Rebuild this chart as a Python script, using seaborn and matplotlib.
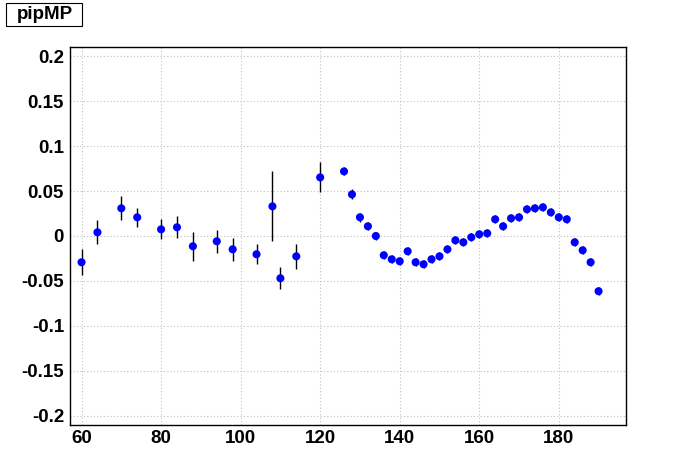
import numpy as np
import pandas as pd
import matplotlib
matplotlib.use('Agg')
import matplotlib.pyplot as plt
import seaborn as sns
from matplotlib.ticker import MultipleLocator, FuncFormatter
from matplotlib.patches import Rectangle

# data
x = [60, 64, 70, 74, 80, 84, 88, 94, 98, 104, 108, 110, 114, 120,
     126, 128, 130, 132, 134, 136, 138, 140, 142, 144, 146, 148, 150,
     152, 154, 156, 158, 160, 162, 164, 166, 168, 170, 172, 174, 176,
     178, 180, 182, 184, 186, 188, 190]
y = [-0.0292, 0.0041, 0.0308, 0.0208, 0.0074, 0.0097, -0.0114, -0.0059,
     -0.0148, -0.0203, 0.0330, -0.0470, -0.0226, 0.0652,
     0.0719, 0.0463, 0.0208, 0.0108, 0.0000, -0.0214, -0.0259, -0.0281,
     -0.0170, -0.0292, -0.0314, -0.0259, -0.0226, -0.0148, -0.0048,
     -0.0070, -0.0014, 0.0019, 0.0030, 0.0186, 0.0108, 0.0197, 0.0208,
     0.0297, 0.0308, 0.0319, 0.0263, 0.0208, 0.0186, -0.0070, -0.0159,
     -0.0292, -0.0614]
yerr = [0.0144, 0.0133, 0.0133, 0.0104, 0.0111, 0.0122, 0.0164, 0.0131,
        0.0126, 0.0113, 0.0389, 0.0120, 0.0137, 0.0167,
        0.0045, 0.0055, 0.0050, 0.0045, 0.0045, 0.0045, 0.0045, 0.0045,
        0.0045, 0.0045, 0.0045, 0.0045, 0.0045, 0.0045, 0.0045, 0.0045,
        0.0045, 0.0045, 0.0045, 0.0045, 0.0045, 0.0045, 0.0045, 0.0045,
        0.0045, 0.0045, 0.0045, 0.0045, 0.0045, 0.0045, 0.0045, 0.0045,
        0.0045]
title = 'pipMP'

df = pd.DataFrame({'x': x, 'y': y, 'yerr': yerr})

sns.set_style('white')
plt.rcParams['font.family'] = ['Liberation Sans', 'DejaVu Sans']
plt.rcParams['font.weight'] = 'bold'
plt.rcParams['text.color'] = 'black'
plt.rcParams['xtick.color'] = 'black'
plt.rcParams['ytick.color'] = 'black'

fig = plt.figure(figsize=(6.96, 4.72), dpi=100)
ax = fig.add_axes([0.1, 0.1, 0.8, 0.8])

ax.errorbar(df['x'], df['y'], yerr=df['yerr'], fmt='none',
            ecolor='black', elinewidth=1.0, capsize=0, zorder=2)
sns.scatterplot(data=df, x='x', y='y', ax=ax, color='#0000ff',
                s=34, marker='o', edgecolor='none', zorder=3)

ax.set_xlim(57, 197)
ax.set_ylim(-0.21, 0.21)
ax.set_xlabel('')
ax.set_ylabel('')

ax.xaxis.set_major_locator(MultipleLocator(20))
ax.xaxis.set_minor_locator(MultipleLocator(5))
ax.yaxis.set_major_locator(MultipleLocator(0.05))
ax.yaxis.set_minor_locator(MultipleLocator(0.01))
ax.yaxis.set_major_formatter(FuncFormatter(lambda v, p: '%g' % round(v, 3)))
ax.xaxis.set_major_formatter(FuncFormatter(lambda v, p: '%g' % v))

ax.tick_params(axis='both', which='both', direction='in', color='black',
               labelcolor='black', width=1.0, labelsize=13.5,
               top=False, right=False)
ax.tick_params(axis='y', which='major', length=12, pad=4)
ax.tick_params(axis='y', which='minor', length=5.5)
ax.tick_params(axis='x', which='major', length=8, pad=4)
ax.tick_params(axis='x', which='minor', length=4)
for lab in ax.get_xticklabels() + ax.get_yticklabels():
    lab.set_fontweight('bold')

ax.grid(True, which='major', color='#c0c0c0', linestyle=(0, (1, 2)),
        linewidth=0.8)
for sp in ax.spines.values():
    sp.set_color('black')
    sp.set_linewidth(1.0)

# title box at top left
fig.patches.append(Rectangle((6 / 696, 1 - 26 / 472), 76 / 696, 23 / 472,
                             transform=fig.transFigure, facecolor='white',
                             edgecolor='black', linewidth=0.8))
fig.text(45 / 696, 1 - 14.5 / 472, title, ha='center', va='center',
         fontsize=13.5, fontweight='bold', color='black')

fig.savefig('out.png', dpi=100)
